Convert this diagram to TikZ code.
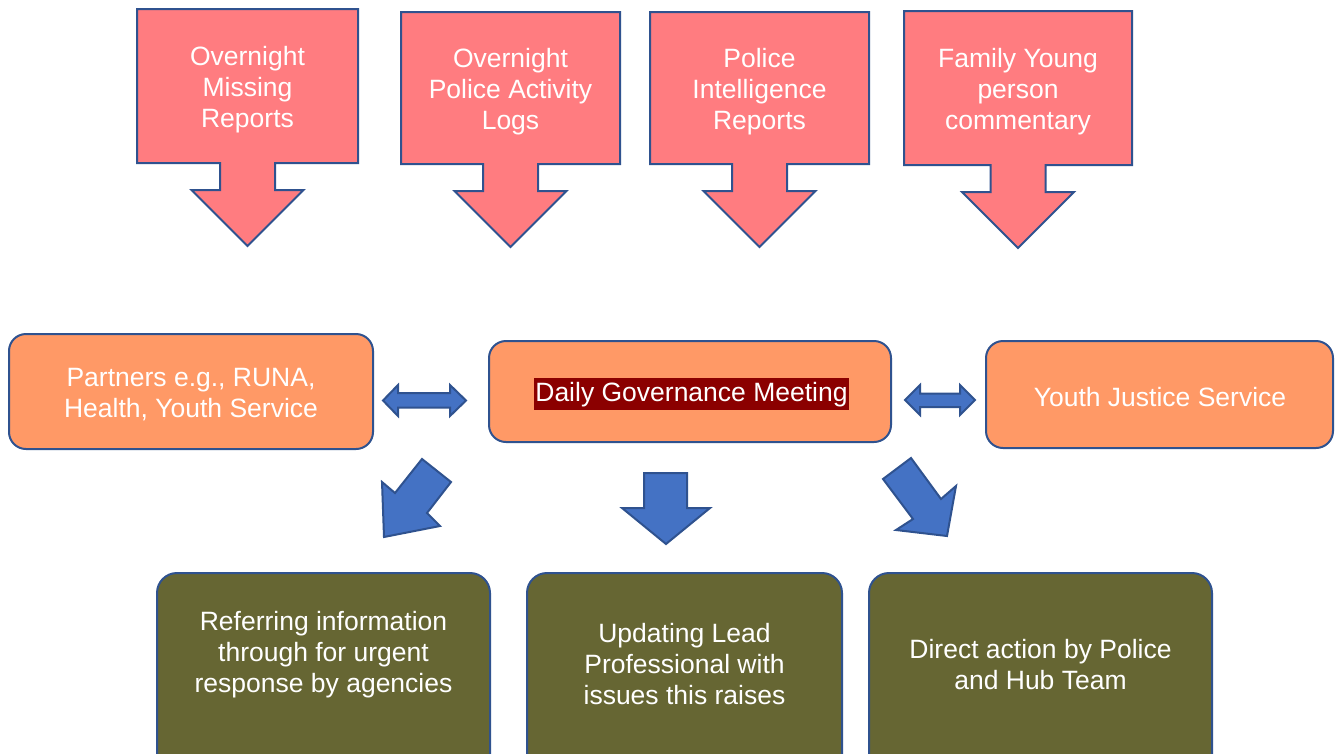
\documentclass[tikz,border=0pt]{standalone}
\usepackage{fontspec}
\setmainfont{Liberation Sans}

\definecolor{calloutpink}{HTML}{FF7C80}
\definecolor{edgeblue}{HTML}{2F528F}
\definecolor{boxorange}{HTML}{FF9966}
\definecolor{arrowblue}{HTML}{4472C4}
\definecolor{boxolive}{HTML}{666633}
\definecolor{markred}{HTML}{8B0000}

\tikzset{
  every node/.style={font=\fontsize{26.5}{31}\selectfont, text=white, align=center},
  calloutshape/.style={fill=calloutpink, draw=edgeblue, line width=2pt, line join=miter},
  orangebox/.style={fill=boxorange, draw=edgeblue, line width=2pt, rounded corners=17pt},
  olivebox/.style={fill=boxolive, draw=edgeblue, line width=2pt, rounded corners=20pt},
  blockarrow/.style={fill=arrowblue, draw=edgeblue, line width=2pt, line join=miter},
}

% #1 name, #2 left, #3 top, #4 right, #5 bottom of the box, #6 text
\newcommand\DownCallout[6]{%
  \draw[calloutshape] (#2,#3) -- (#4,#3) -- (#4,#5)
    -- ({(#2+#4)/2+27.5},{#5}) -- ({(#2+#4)/2+27.5},{#5+27})
    -- ({(#2+#4)/2+56},{#5+27}) -- ({(#2+#4)/2},{#5+83})
    -- ({(#2+#4)/2-56},{#5+27}) -- ({(#2+#4)/2-27.5},{#5+27})
    -- ({(#2+#4)/2-27.5},{#5}) -- (#2,#5) -- cycle;
  \node (#1) at ({(#2+#4)/2},{(#3+#5)/2+4}) {#6};
}

\begin{document}
\begin{tikzpicture}[x=1pt,y=-1pt]
  \clip (0,0) rectangle (1335,753);
  \fill[white] (0,0) rectangle (1335,753);

  % incoming information
  \DownCallout{missing}{137}{9}{358}{163}{Overnight\\Missing\\Reports}
  \DownCallout{logs}{401}{12}{620}{164}{Overnight\\Police Activity\\Logs}
  \DownCallout{intel}{650}{12}{869}{164}{Police\\Intelligence\\Reports}
  \DownCallout{family}{904}{11}{1132}{165}{Family Young\\person\\commentary}

  % middle row
  \node[orangebox, minimum width=364pt, minimum height=115pt] (partners) at (191,391.5) {};
  \node (partnerstext) at (191,395) {Partners e.g., RUNA,\\Health, Youth Service};
  \node[orangebox, minimum width=402pt, minimum height=101pt] (daily) at (690,391.5) {};
  \node[fill=markred, inner xsep=1pt, inner ysep=0pt, text height=24pt, text depth=8pt]
    (dailytext) at (691.5,393.5) {Daily Governance Meeting};
  \node[orangebox, minimum width=347pt, minimum height=107pt] (yjs) at (1159.5,394.5) {};
  \node (yjstext) at (1160,397) {Youth Justice Service};

  % two-way links
  \draw[blockarrow] (383,400.5) -- (398,385) -- (398,393) -- (450,393) -- (450,385)
    -- (466,400.5) -- (450,416) -- (450,407.5) -- (398,407.5) -- (398,416) -- cycle;
  \draw[blockarrow] (905,400) -- (920,385) -- (920,393.5) -- (960,393.5) -- (960,385)
    -- (975,400) -- (960,415) -- (960,407) -- (920,407) -- (920,415) -- cycle;

  % outcome arrows
  \draw[blockarrow] (422,459) -- (451,482) -- (427,513) -- (440,526) -- (384,537)
    -- (382,482) -- (395,493) -- cycle;
  \draw[blockarrow] (644,473) -- (687,473) -- (687,508) -- (710,508) -- (666,544)
    -- (622,508) -- (644,508) -- cycle;
  \draw[blockarrow] (883,479) -- (911,458) -- (941,499) -- (956,486) -- (947,536)
    -- (896,530) -- (913,519) -- cycle;

  % outcomes
  \node[olivebox, minimum width=333pt, minimum height=227pt] (refer) at (323.5,686.5) {};
  \node (refertext) at (323.5,655) {Referring information\\through for urgent\\response by agencies};
  \node[olivebox, minimum width=315pt, minimum height=227pt] (update) at (684.5,686.5) {};
  \node (updatetext) at (684.5,664) {Updating Lead\\Professional with\\issues this raises};
  \node[olivebox, minimum width=343pt, minimum height=227pt] (direct) at (1040.5,686.5) {};
  \node (directtext) at (1040.5,665) {Direct action by Police\\and Hub Team};
\end{tikzpicture}
\end{document}
